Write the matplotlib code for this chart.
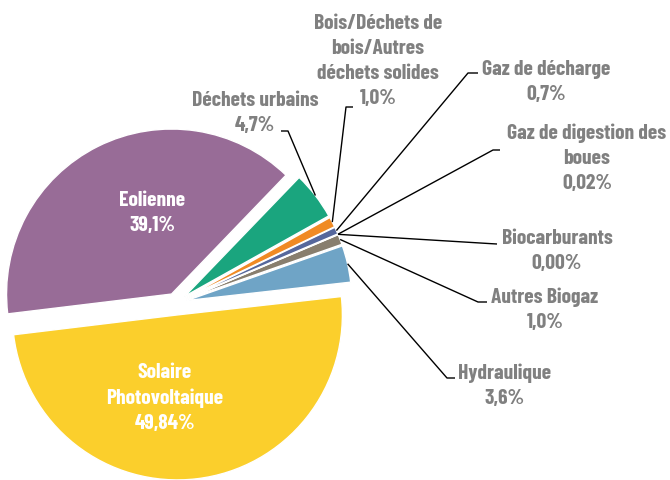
import matplotlib
matplotlib.use("Agg")
import matplotlib.pyplot as plt
import numpy as np

plt.rcParams["font.family"] = ["Barlow Condensed", "DejaVu Sans"]

# ----- Data (counter-clockwise on screen, starting just above 3 o'clock) -----
categories = [
    "Hydraulique",
    "Autres Biogaz",
    "Biocarburants",
    "Gaz de digestion des\nboues",
    "Gaz de décharge",
    "Bois/Déchets de\nbois/Autres\ndéchets solides",
    "Déchets urbains",
    "Eolienne",
    "Solaire\nPhotovoltaique",
]
shares = [3.6, 1.0, 0.00, 0.02, 0.7, 1.0, 4.7, 39.1, 49.84]
share_labels = ["3,6%", "1,0%", "0,00%", "0,02%", "0,7%", "1,0%", "4,7%",
                "39,1%", "49,84%"]

COLORS = ["#6fa4c6", "#887e6e", "#c0504d", "#4bacc6", "#56679c",
          "#f08a24", "#1aa57e", "#986c97", "#fbcf2c"]
EXPLODE = [11, 11, 11, 11, 11, 11, 11, 10, 12]   # pixels

GREY = "#808080"
FONT_SIZE = 15.5
LINESPACING = 1.4

# pie geometry, in pixel units (y grows downwards)
CX, CY, R = 176, 303, 165
START = 6.4

# label layout: (text centre, elbow, end of the short tick)
OUTSIDE = {
    0: ((505, 386), (447, 378), (455, 378)),
    1: ((545, 310), (478, 302), (487, 302)),
    2: ((557, 251), (490, 243.6), (497, 244)),
    3: ((587, 158), (493, 150), (500, 150)),
    4: ((546, 82), (468, 73), (478, 73)),
    5: ((378, 61), (346, 107), (353, 107)),
    6: ((255, 113), (288, 131), (281, 131)),
}
INSIDE = {7: (152, 213), 8: (165, 398)}


def main():
    fig = plt.figure(figsize=(6.7, 4.8), dpi=100)
    ax = fig.add_axes([0, 0, 1, 1])

    wedges, _ = ax.pie(
        shares, colors=COLORS, explode=EXPLODE, radius=R, center=(CX, CY),
        startangle=-START, counterclock=False,
        wedgeprops=dict(edgecolor="white", linewidth=1.0),
    )

    for i, (txt_pos, elbow, tick) in OUTSIDE.items():
        w = wedges[i]
        mid = np.deg2rad((w.theta1 + w.theta2) / 2)
        x0 = w.center[0] + w.r * np.cos(mid)
        y0 = w.center[1] + w.r * np.sin(mid)
        ax.plot([x0, elbow[0], tick[0]], [y0, elbow[1], tick[1]],
                color="black", lw=1.0, solid_capstyle="butt", zorder=3)
        ax.text(txt_pos[0], txt_pos[1], f"{categories[i]}\n{share_labels[i]}",
                ha="center", va="center", fontsize=FONT_SIZE,
                fontweight="bold", color=GREY, linespacing=LINESPACING,
                zorder=4)

    for i, pos in INSIDE.items():
        ax.text(pos[0], pos[1], f"{categories[i]}\n{share_labels[i]}",
                ha="center", va="center", fontsize=FONT_SIZE,
                fontweight="bold", color="white", linespacing=LINESPACING,
                zorder=4)

    ax.set_xlim(0, 670)
    ax.set_ylim(480, 0)
    ax.set_aspect("equal")
    ax.axis("off")

    fig.savefig("out.png", dpi=100, facecolor="white")
    plt.close(fig)


if __name__ == "__main__":
    main()
